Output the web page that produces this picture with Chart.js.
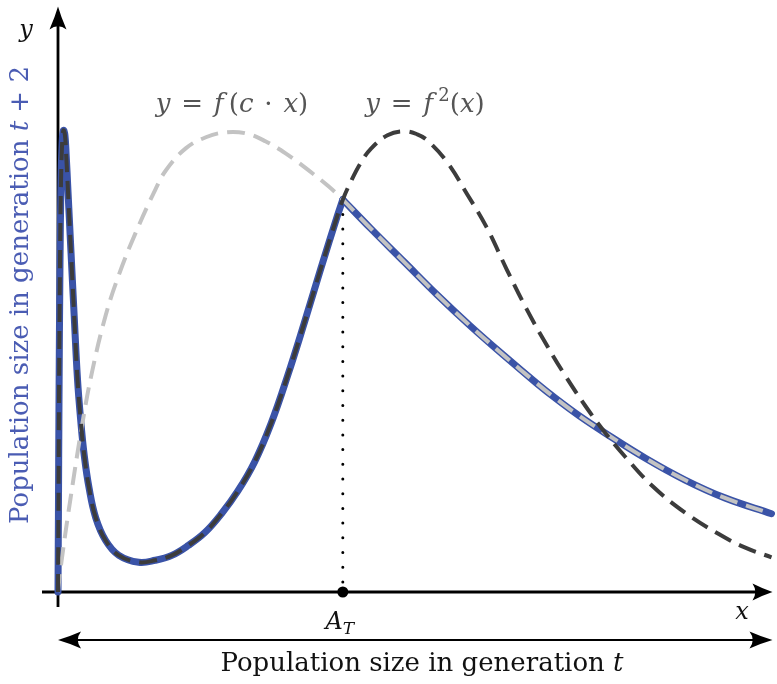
<!DOCTYPE html>
<html>
<head>
<meta charset="utf-8">
<script src="https://cdn.jsdelivr.net/npm/chart.js@4.4.1/dist/chart.umd.min.js"></script>
<style>
  html, body { margin: 0; padding: 0; background: #fff; overflow: hidden; }
</style>
</head>
<body>
<canvas id="chart" width="777" height="684"></canvas>
<script>
// samples, plot units
const f2X = [0, 0.004, 0.01, 0.02, 0.03, 0.042, 0.055, 0.07, 0.083, 0.097, 0.13, 0.163, 0.197, 0.23, 0.263, 0.313,
  0.38, 0.48, 0.613, 0.813, 0.98, 1.147, 1.313, 1.48, 1.647, 1.813, 1.98, 2.147, 2.313, 2.48, 2.647, 2.813, 2.87,
  2.95, 3.05, 3.15, 3.32, 3.49, 3.62, 3.72, 3.92, 4.12, 4.32, 4.52, 4.72, 4.92, 5.12, 5.32, 5.52, 5.72, 5.99, 6.32,
  6.65, 6.92, 7.19];
const f2Y = [0, 0.72, 1.92, 3.32, 4.12, 4.54, 4.66, 4.61, 4.40, 4.12, 3.45, 2.79, 2.14, 1.72, 1.39, 1.05,
  0.75, 0.52, 0.37, 0.30, 0.32, 0.37, 0.47, 0.60, 0.79, 1.02, 1.31, 1.70, 2.18, 2.71, 3.26, 3.79, 3.96,
  4.14, 4.33, 4.47, 4.61, 4.65, 4.62, 4.56, 4.34, 4.02, 3.68, 3.26, 2.86, 2.50, 2.17, 1.87, 1.60, 1.36, 1.07, 0.80,
  0.59, 0.45, 0.35];

const fcX = [0, 0.03, 0.13, 0.247, 0.347, 0.48, 0.613, 0.78, 0.98, 1.09, 1.29, 1.49, 1.69, 1.89, 2.09, 2.29, 2.52,
  2.72, 2.87, 3.15, 3.49, 3.82, 4.15, 4.49, 4.82, 5.02, 5.25, 5.52, 5.92, 6.32, 6.72, 7.19];
const fcY = [0, 0.27, 0.97, 1.71, 2.24, 2.79, 3.20, 3.62, 4.06, 4.26, 4.48, 4.59, 4.64, 4.63, 4.55, 4.43, 4.26,
  4.10, 3.96, 3.67, 3.33, 3.00, 2.69, 2.39, 2.11, 1.95, 1.78, 1.60, 1.35, 1.13, 0.95, 0.79];

const A_T = 2.87;
const A_T_Y = 3.96;
const X_MAX = 7.19;
const Y_MAX = 5.92;

const BLUE = '#3a53a7';
const DARK = '#3c3c3c';
const LIGHT = '#c3c3c3';

const pts = (xs, ys) => xs.map((x, i) => ({ x: x, y: ys[i] }));

// the thick curve: f^2 up to A_T, then f(c x)
const thickLeft = pts(f2X, f2Y).filter(p => p.x <= A_T);
const thickRight = pts(fcX, fcY).filter(p => p.x >= A_T);

const ROMAN = '"DejaVu Serif", serif';

function arrowHead(ctx, x, y, angle, len, half) {
  ctx.save();
  ctx.translate(x, y);
  ctx.rotate(angle);
  ctx.beginPath();
  ctx.moveTo(0, 0);
  ctx.quadraticCurveTo(-len * 0.45, -half * 0.35, -len, -half);
  ctx.quadraticCurveTo(-len * 0.72, 0, -len, half);
  ctx.quadraticCurveTo(-len * 0.45, half * 0.35, 0, 0);
  ctx.closePath();
  ctx.fill();
  ctx.restore();
}

function runFont(style, size) {
  if (style === 'i') return 'italic ' + size + 'px ' + ROMAN;
  if (style === 'sup' || style === 'sub') return Math.round(size * 0.7) + 'px ' + ROMAN;
  if (style === 'subi') return 'italic ' + Math.round(size * 0.7) + 'px ' + ROMAN;
  return size + 'px ' + ROMAN;
}

// mixed-style text centred on cx, baseline at by
function drawRuns(ctx, runs, cx, by, size, color) {
  ctx.save();
  ctx.fillStyle = color;
  ctx.textBaseline = 'alphabetic';
  ctx.textAlign = 'left';
  let total = 0;
  runs.forEach(r => { ctx.font = runFont(r[1], size); total += ctx.measureText(r[0]).width; });
  let x = cx - total / 2;
  runs.forEach(r => {
    ctx.font = runFont(r[1], size);
    let dy = 0;
    if (r[1] === 'sup') dy = -size * 0.42;
    if (r[1] === 'sub' || r[1] === 'subi') dy = size * 0.22;
    ctx.fillText(r[0], x, by + dy);
    x += ctx.measureText(r[0]).width;
  });
  ctx.restore();
}

const axesPlugin = {
  id: 'axes',
  beforeDatasetsDraw(chart) {
    const ctx = chart.ctx;
    const sx = chart.scales.x, sy = chart.scales.y;
    const ox = sx.getPixelForValue(0), oy = sy.getPixelForValue(0);
    const right = sx.getPixelForValue(X_MAX), top = sy.getPixelForValue(Y_MAX);
    ctx.save();
    ctx.strokeStyle = '#000';
    ctx.fillStyle = '#000';
    ctx.lineWidth = 2.8;
    ctx.beginPath();
    ctx.moveTo(ox - 16, oy);
    ctx.lineTo(right - 8, oy);
    ctx.moveTo(ox, oy + 15);
    ctx.lineTo(ox, top + 8);
    ctx.stroke();
    arrowHead(ctx, right + 1, oy, 0, 20, 8.5);
    arrowHead(ctx, ox, top + 1, -Math.PI / 2, 23, 8.5);

    // span arrow under the axis
    const ay = oy + 48;
    ctx.lineWidth = 2.2;
    ctx.beginPath();
    ctx.moveTo(ox + 8, ay);
    ctx.lineTo(right - 8, ay);
    ctx.stroke();
    arrowHead(ctx, ox, ay, Math.PI, 23, 8.5);
    arrowHead(ctx, right + 1, ay, 0, 23, 8.5);
    ctx.restore();
  },
  afterDraw(chart) {
    const ctx = chart.ctx;
    const sx = chart.scales.x, sy = chart.scales.y;
    const oy = sy.getPixelForValue(0);
    const ax = sx.getPixelForValue(A_T);
    const sp = ' \u200a';
    const th = '\u2009';

    drawRuns(ctx, [['y', 'i']], 26, 37, 24, '#111');
    drawRuns(ctx, [['x', 'i']], 742, 619, 24, '#111');
    drawRuns(ctx, [['A', 'i'], ['T', 'subi']], ax - 3, oy + 37, 24, '#111');
    drawRuns(ctx, [['Population size in generation ', 'r'], ['t', 'i']], 422, oy + 79, 26, '#111');

    drawRuns(ctx, [['y', 'i'], [sp + '=' + sp, 'r'], ['f', 'i'], [th + '(', 'r'], ['c', 'i'], [sp + '\u00b7' + sp, 'r'],
      ['x', 'i'], [')', 'r']], 232, 112, 26, '#555');
    drawRuns(ctx, [['y', 'i'], [sp + '=' + sp, 'r'], ['f', 'i'], [th, 'r'], ['2', 'sup'], ['(', 'r'], ['x', 'i'],
      [')', 'r']], 425, 112, 26, '#555');

    ctx.save();
    ctx.translate(28, 295);
    ctx.rotate(-Math.PI / 2);
    drawRuns(ctx, [['Population size in generation ', 'r'], ['t', 'i'], [' + 2', 'r']], 0, 0, 26, '#4a5cb3');
    ctx.restore();
  }
};

const dashed = (data, color, order) => ({
  data: data,
  borderColor: color,
  borderWidth: 4,
  borderDash: [18, 9],
  pointRadius: 0,
  tension: 0.4,
  clip: false,
  order: order
});

const thick = (data, order) => ({
  data: data,
  borderColor: BLUE,
  borderWidth: 7,
  borderCapStyle: 'round',
  borderJoinStyle: 'round',
  pointRadius: 0,
  tension: 0.4,
  clip: false,
  order: order
});

new Chart(document.getElementById('chart'), {
  type: 'line',
  data: {
    datasets: [
      {
        data: [{ x: A_T, y: 0 }],
        showLine: false,
        pointRadius: 5.5,
        pointBackgroundColor: '#000',
        pointBorderWidth: 0,
        clip: false,
        order: 0
      },
      dashed(pts(f2X, f2Y), DARK, 1),
      dashed(pts(fcX, fcY), LIGHT, 2),
      {
        data: [{ x: A_T, y: A_T_Y }, { x: A_T, y: 0 }],
        borderColor: '#000',
        borderWidth: 3,
        borderDash: [0, 14.7],
        borderCapStyle: 'round',
        pointRadius: 0,
        clip: false,
        order: 3
      },
      thick(thickLeft, 4),
      thick(thickRight, 5)
    ]
  },
  options: {
    responsive: false,
    animation: false,
    layout: { padding: { left: 58, right: 0, top: 0, bottom: 92 } },
    plugins: { legend: { display: false }, tooltip: { enabled: false } },
    scales: {
      x: { type: 'linear', min: 0, max: X_MAX, display: false },
      y: { type: 'linear', min: 0, max: Y_MAX, display: false }
    }
  },
  plugins: [axesPlugin]
});
</script>
</body>
</html>
